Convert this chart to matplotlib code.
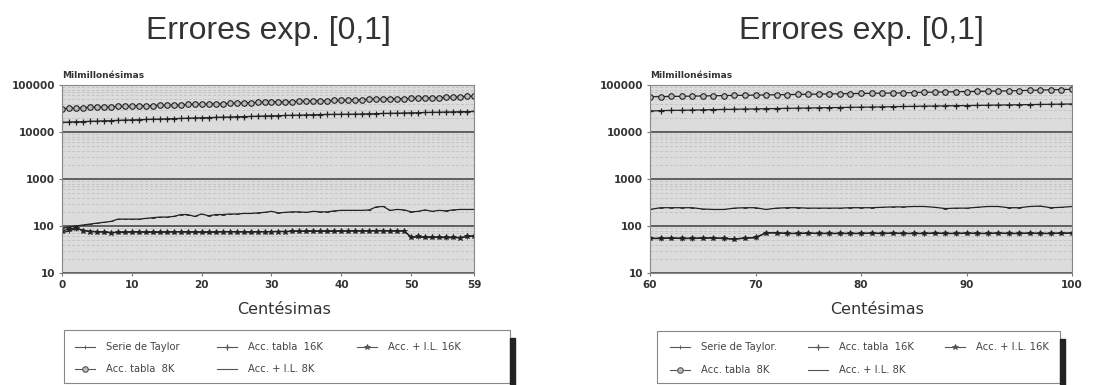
import matplotlib
matplotlib.use("Agg")
import matplotlib.pyplot as plt
from matplotlib.patches import Rectangle
from matplotlib.lines import Line2D

plt.rcParams['font.family'] = ['Liberation Sans', 'DejaVu Sans']

# --- data ---
x_left = list(range(0, 60))
x_right = list(range(60, 101))

tabla8k_left = [31000, 32000, 32500, 33000, 33500, 34000, 34000, 34500, 35000, 35000,
                35500, 36000, 36000, 36500, 37000, 37000, 37500, 38000, 38500, 39000,
                39000, 39500, 40000, 40000, 40500, 41000, 41500, 42000, 42500, 43000,
                43500, 44000, 44000, 44500, 45000, 45500, 46000, 46000, 46500, 47000,
                47500, 48000, 48500, 49000, 49500, 50000, 50500, 51000, 51000, 51500,
                52000, 52500, 53000, 53500, 54000, 54500, 55000, 56000, 57000, 58000]
tabla16k_left = [16000, 16300, 16500, 16600, 16900, 17000, 17300, 17400, 17700, 17900,
                 18100, 18200, 18500, 18700, 18800, 19100, 19300, 19400, 19700, 19900,
                 20100, 20200, 20500, 20700, 20800, 21100, 21300, 21400, 21700, 21900,
                 22100, 22200, 22500, 22700, 22800, 23100, 23300, 23500, 23600, 23700,
                 23800, 23900, 24000, 24200, 24400, 24600, 24800, 25000, 25100, 25400,
                 25600, 25700, 26000, 26200, 26300, 26600, 26800, 27000, 27200, 27400]
il8k_left = [90, 95, 100, 105, 110, 115, 120, 125, 140, 140,
             140, 140, 145, 150, 155, 155, 160, 175, 175, 160,
             180, 165, 175, 175, 180, 180, 185, 185, 190, 195,
             205, 190, 195, 200, 200, 195, 205, 200, 200, 210,
             215, 215, 215, 215, 220, 255, 260, 215, 225, 220,
             200, 205, 220, 205, 215, 210, 220, 225, 225, 225]
il16k_left = [80, 85, 92, 80, 76, 75, 75, 72, 73, 74,
              74, 75, 74, 74, 73, 74, 75, 75, 74, 74,
              74, 73, 74, 75, 75, 75, 75, 74, 75, 75,
              76, 76, 76, 77, 77, 77, 77, 77, 77, 77,
              78, 78, 78, 78, 78, 79, 79, 78, 78, 78,
              57, 60, 58, 58, 57, 57, 57, 56, 60, 62]
taylor_left = [72, 78, 88, 82, 78, 76, 74, 73, 73, 74,
               75, 75, 74, 74, 74, 75, 75, 76, 75, 75,
               74, 74, 75, 76, 76, 76, 75, 75, 76, 76,
               76, 77, 77, 77, 77, 78, 78, 77, 78, 78,
               78, 78, 79, 79, 79, 80, 80, 79, 79, 79,
               58, 58, 57, 57, 58, 56, 57, 57, 59, 61]

tabla8k_right = [56000, 56500, 57000, 57500, 58000, 58500, 59000, 59500, 60000, 60500,
                 61000, 61500, 62000, 62500, 63000, 63500, 64000, 64500, 65000, 65500,
                 66000, 66500, 67000, 67500, 68000, 69000, 70000, 70500, 71000, 72000,
                 72500, 73000, 74000, 74500, 75000, 76000, 77000, 78000, 79000, 80000, 81000]
tabla16k_right = [28000, 28500, 28800, 29000, 29300, 29600, 30000, 30200, 30500, 30800,
                  31000, 31300, 31600, 31900, 32100, 32400, 32700, 33000, 33200, 33500,
                  33800, 34000, 34300, 34600, 34900, 35100, 35400, 35700, 36000, 36300,
                  36500, 36800, 37100, 37400, 37700, 38000, 38300, 38600, 38900, 39200, 39500]
il8k_right = [225, 245, 245, 245, 245, 230, 225, 225, 240, 245,
              245, 225, 240, 245, 245, 240, 240, 240, 240, 245,
              245, 245, 250, 255, 255, 260, 260, 250, 235, 240,
              240, 250, 260, 260, 245, 245, 260, 265, 245, 250, 260]
il16k_right = [55, 55, 56, 55, 55, 56, 56, 55, 53, 56,
               57, 72, 72, 70, 70, 71, 70, 70, 70, 70,
               70, 71, 70, 71, 70, 70, 70, 71, 70, 70,
               71, 70, 70, 71, 70, 70, 71, 70, 70, 71, 71]
taylor_right = [54, 54, 55, 54, 54, 55, 55, 54, 52, 55,
                56, 71, 71, 69, 69, 70, 69, 69, 69, 69,
                69, 70, 69, 70, 69, 69, 69, 70, 69, 69,
                70, 69, 69, 70, 69, 69, 70, 69, 69, 70, 70]

labels_left = ["Serie de Taylor", "Acc. tabla  16K", "Acc. + I.L. 16K",
               "Acc. tabla  8K", "Acc. + I.L. 8K"]
labels_right = ["Serie de Taylor.", "Acc. tabla  16K", "Acc. + I.L. 16K",
                "Acc. tabla  8K", "Acc. + I.L. 8K"]

W, H = 1112, 385
fig = plt.figure(figsize=(W / 100, H / 100), dpi=100)
fig.patch.set_facecolor('white')

# styles per series: taylor, tabla16k, il16k, tabla8k, il8k
styles = [
    dict(marker='|', ms=3, mew=0.6),
    dict(marker='+', ms=5, mew=0.9),
    dict(marker='*', ms=4, mew=0.6),
    dict(marker='o', ms=4, mew=0.8, mfc='#bbbbbb'),
    dict(marker='_', ms=3, mew=0.6),
]
INK = '#333333'


def fx(px):
    return px / W


def fy(py):
    return 1 - py / H


def draw(rect, xs, series, xticks, xlim, labels, leg_box, leg_cols, leg_rows):
    ax = fig.add_axes([fx(rect[0]), fy(rect[3]), (rect[2] - rect[0]) / W, (rect[3] - rect[1]) / H])
    ax.set_facecolor('#dcdcdc')
    ax.set_yscale('log')
    ax.set_ylim(10, 100000)
    ax.set_xlim(*xlim)
    for ys, st in zip(series, styles):
        ax.plot(xs, ys, color='#222222', lw=0.9, mec='#222222', **st)
    ax.grid(True, which='major', axis='y', color='#555555', lw=1.3)
    ax.grid(True, which='minor', axis='y', color='#c4c4c4', lw=0.7, ls=(0, (3, 2)))
    ax.set_axisbelow(True)
    ax.set_yticks([10, 100, 1000, 10000, 100000])
    ax.set_yticklabels(['10', '100', '1000', '10000', '100000'])
    ax.yaxis.set_minor_formatter(plt.NullFormatter())
    ax.set_xticks(xticks)
    ax.tick_params(axis='both', which='major', labelsize=7.5, length=2, color='#777777', pad=3)
    ax.tick_params(axis='y', which='minor', length=0)
    for lab in ax.get_xticklabels() + ax.get_yticklabels():
        lab.set_family('DejaVu Sans')
        lab.set_fontweight('bold')
        lab.set_color(INK)
    for sp in ax.spines.values():
        sp.set_color('#888888')
        sp.set_linewidth(0.8)
    cx = (rect[0] + rect[2]) / 2
    fig.text(fx(cx + 16), fy(310), 'Centésimas', fontsize=11.5, family='DejaVu Sans',
             color=INK, ha='center', va='center')
    fig.text(fx(cx), fy(31), 'Errores exp. [0,1]', fontsize=23, color=INK,
             ha='center', va='center')
    fig.text(fx(rect[0]), fy(rect[1] - 5), 'Milmillonésimas', fontsize=6.5,
             family='DejaVu Sans', fontweight='bold', color=INK, va='bottom', ha='left')

    # legend box with dark shadow on the right
    bx0, by0, bx1, by1 = leg_box
    fig.add_artist(Rectangle((fx(bx0), fy(by1)), (bx1 - bx0) / W, (by1 - by0) / H,
                             transform=fig.transFigure, facecolor='white',
                             edgecolor='#888888', lw=0.8))
    fig.add_artist(Rectangle((fx(bx1), fy(by1 + 2)), 5 / W, (by1 - by0 - 6) / H,
                             transform=fig.transFigure, color='#222222'))
    slots = [(0, 0), (1, 0), (2, 0), (0, 1), (1, 1)]
    for i, (c, r) in enumerate(slots):
        hx = leg_cols[c]
        hy = leg_rows[r]
        fig.add_artist(Line2D([fx(hx), fx(hx + 20)], [fy(hy), fy(hy)],
                              transform=fig.transFigure, color='#555555', lw=0.8))
        fig.add_artist(Line2D([fx(hx + 10)], [fy(hy)], transform=fig.transFigure,
                              color='#555555', lw=0, mec='#555555', **styles[i]))
        fig.text(fx(hx + 31), fy(hy), labels[i], fontsize=7.2, family='DejaVu Sans',
                 color='#444444', ha='left', va='center')


draw((62, 85, 474, 273), x_left,
     [taylor_left, tabla16k_left, il16k_left, tabla8k_left, il8k_left],
     [0, 10, 20, 30, 40, 50, 59], (0, 59), labels_left,
     (64, 330, 510, 383), [75, 217, 357], [347, 369])
draw((650, 85, 1072, 273), x_right,
     [taylor_right, tabla16k_right, il16k_right, tabla8k_right, il8k_right],
     [60, 70, 80, 90, 100], (60, 100), labels_right,
     (657, 331, 1060, 383), [670, 808, 945], [347, 370])

fig.savefig('out.png', dpi=100)
